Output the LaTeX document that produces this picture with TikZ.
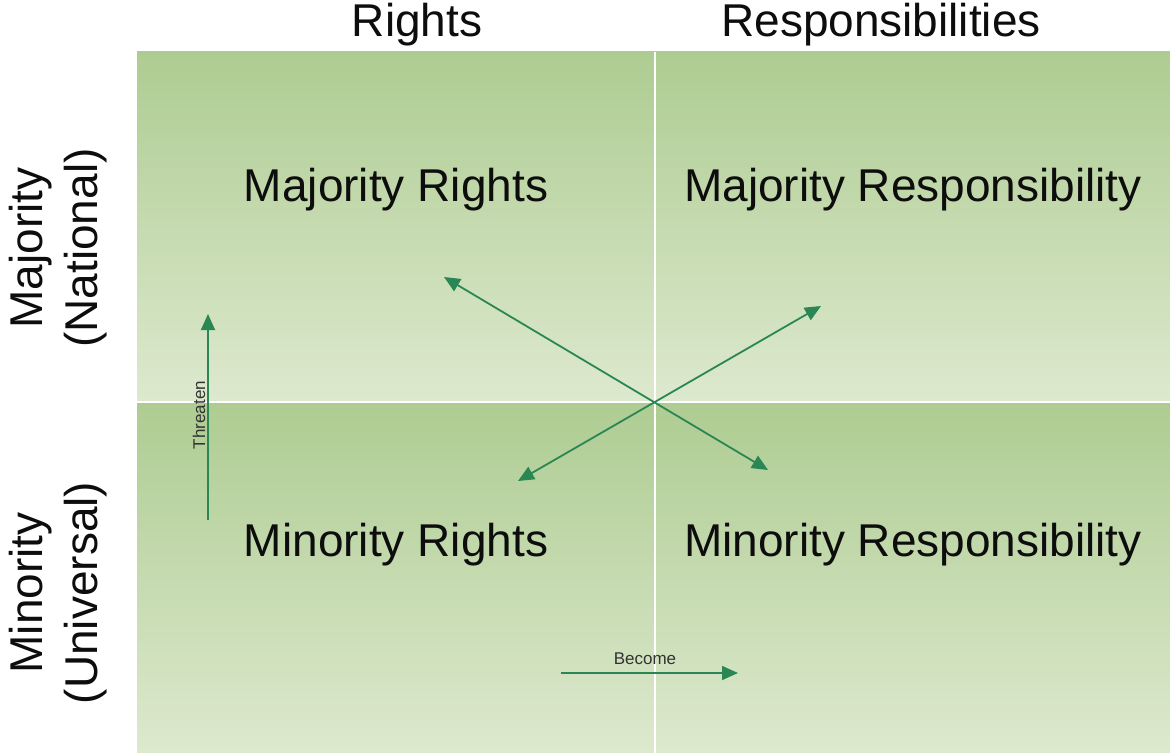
\documentclass[tikz,border=0pt]{standalone}
\usepackage{fontspec}
\setmainfont{Liberation Sans}
\usepackage{xcolor}
\usetikzlibrary{arrows.meta}

\definecolor{quadtop}{RGB}{174,204,146}
\definecolor{quadbot}{RGB}{221,233,206}
\definecolor{arrowgreen}{RGB}{42,135,84}

\tikzset{
    quad/.style={top color=quadtop, bottom color=quadbot, draw=none},
    big/.style={font=\fontsize{23}{27.5}\selectfont, text=black!95},
    small/.style={font=\fontsize{8.5}{10}\selectfont, text=black!80},
    link/.style={draw=arrowgreen, line width=0.9pt, -{Triangle[length=8pt, width=7pt]}},
    twolink/.style={link, {Triangle[length=8pt, width=7pt]}-{Triangle[length=8pt, width=7pt]}}
}

\begin{document}
\begin{tikzpicture}[x=0.5pt, y=-0.5pt]
    \useasboundingbox[fill=white] (0,0) rectangle (1170,753);

    % four quadrants
    \foreach \xa/\xb/\ya/\yb in {137/655/52/402, 655/1170/52/402, 137/655/402/753, 655/1170/402/753} {
        \shade[quad] (\xa,\ya) rectangle (\xb,\yb);
    }
    \draw[white, line width=1pt] (655,52) -- (655,753);
    \draw[white, line width=1pt] (137,402) -- (1170,402);

    % column and row headings
    \node[big] (rights) at (417,25) {Rights};
    \node[big] (resp) at (881,25) {Responsibilities};
    \node[big, rotate=90, align=center] (major) at (58,248) {Majority\\(National)};
    \node[big, rotate=90, align=center] (minor) at (58,593) {Minority\\(Universal)};

    % quadrant labels
    \node[big] (majrights) at (396,190) {Majority Rights};
    \node[big] (majresp) at (913,190) {Majority Responsibility};
    \node[big] (minrights) at (396,545) {Minority Rights};
    \node[big] (minresp) at (913,545) {Minority Responsibility};

    % arrows
    \coordinate (tlow) at (208,520);
    \coordinate (thigh) at (208,314);
    \coordinate (bleft) at (561,673);
    \coordinate (bright) at (738,673);
    \coordinate (d1a) at (444,277);
    \coordinate (d1b) at (768,470);
    \coordinate (d2a) at (518,481);
    \coordinate (d2b) at (821,306);

    \draw[link] (tlow) -- (thigh);
    \node[small, rotate=90] (threaten) at (199,415) {Threaten};
    \draw[link] (bleft) -- (bright);
    \node[small] (become) at (645,659) {Become};
    \draw[twolink] (d1a) -- (d1b);
    \draw[twolink] (d2a) -- (d2b);
\end{tikzpicture}
\end{document}
